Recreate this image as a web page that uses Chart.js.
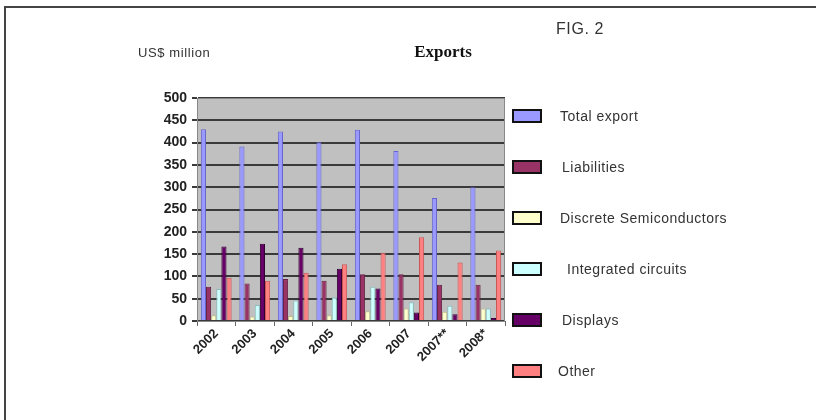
<!DOCTYPE html>
<html lang="en">
<head>
    <meta charset="UTF-8">
    <title>Exports</title>
    <script src="https://cdn.jsdelivr.net/npm/chart.js"></script>
    <style>
        html, body { margin: 0; padding: 0; background: #fff; }
        .wrap { position: relative; width: 816px; height: 420px; }
        .frame { position: absolute; left: 4px; top: 6px; right: 0; bottom: 0;
                 border-left: 2px solid #444; border-top: 2px solid #444; }
    </style>
</head>
<body>
<div class="wrap">
    <div class="frame"></div>
    <canvas id="exportsChart" width="816" height="420"></canvas>
</div>
<script>
    // data (US$ million)
    const years = ['2002', '2003', '2004', '2005', '2006', '2007', '2007**', '2008*'];
    const totalExport = [430, 391, 425, 401, 429, 381, 276, 300];
    const liabilities = [77, 84, 94, 90, 105, 105, 81, 81];
    const discreteSemi = [13, 10, 11, 13, 22, 28, 21, 28];
    const integratedCircuits = [72, 36, 46, 53, 77, 42, 34, 28];
    const displays = [167, 173, 164, 117, 73, 19, 15, 7];
    const other = [97, 90, 108, 127, 153, 188, 131, 158];
    const yTicks = [0, 50, 100, 150, 200, 250, 300, 350, 400, 450, 500];

    const seriesNames = ['Total export', 'Liabilities', 'Discrete Semiconductors', 'Integrated circuits', 'Displays', 'Other'];
    const seriesData = [totalExport, liabilities, discreteSemi, integratedCircuits, displays, other];
    const fills = ['#9999ff', '#993366', '#ffffcc', '#ccffff', '#660066', '#ff8080'];
    const edges = ['#6666cc', '#662244', '#bbbb88', '#88bbbb', '#330033', '#cc5555'];

    const datasets = seriesNames.map((name, i) => ({
        label: name,
        data: seriesData[i],
        backgroundColor: fills[i],
        borderColor: edges[i],
        borderWidth: 1,
        categoryPercentage: 0.8,
        barPercentage: 1.0
    }));

    const decor = {
        id: 'decor',
        beforeDraw(chart) {
            const { ctx, chartArea: a } = chart;
            ctx.save();
            ctx.fillStyle = '#c0c0c0';
            ctx.fillRect(a.left, a.top, a.right - a.left, a.bottom - a.top);
            ctx.restore();
        },
        afterDraw(chart) {
            const { ctx, chartArea: a } = chart;
            ctx.save();
            // plot frame
            ctx.strokeStyle = '#888';
            ctx.lineWidth = 1;
            ctx.strokeRect(a.left + 0.5, a.top + 0.5, a.right - a.left - 1, a.bottom - a.top);

            // titles
            ctx.fillStyle = '#333';
            ctx.textBaseline = 'middle';
            ctx.textAlign = 'left';
            ctx.letterSpacing = '0.6px';
            ctx.font = '13px "Liberation Sans", Arial, sans-serif';
            ctx.fillText('US$ million', 138, 53);
            ctx.font = '16px "Liberation Sans", Arial, sans-serif';
            ctx.fillText('FIG. 2', 556, 30);
            ctx.letterSpacing = '0px';
            ctx.fillStyle = '#111';
            ctx.font = 'bold 17px "Liberation Serif", "Times New Roman", serif';
            ctx.textAlign = 'center';
            ctx.fillText('Exports', 443, 53);

            // legend
            ctx.textAlign = 'left';
            ctx.letterSpacing = '0.5px';
            ctx.font = '14px "Liberation Sans", Arial, sans-serif';
            const textX = [560, 562, 560, 567, 562, 558];
            seriesNames.forEach((name, i) => {
                const cy = 116 + i * 51;
                ctx.fillStyle = fills[i];
                ctx.fillRect(513, cy - 6, 28, 12);
                ctx.strokeStyle = '#111';
                ctx.lineWidth = 2;
                ctx.strokeRect(513, cy - 6, 28, 12);
                ctx.fillStyle = '#333';
                ctx.fillText(name, textX[i], cy + 1);
            });
            ctx.restore();
        }
    };

    new Chart(document.getElementById('exportsChart'), {
        type: 'bar',
        data: { labels: years, datasets: datasets },
        plugins: [decor],
        options: {
            responsive: false,
            animation: false,
            layout: { padding: { left: 0, right: 311, top: 98, bottom: 0 } },
            plugins: {
                legend: { display: false },
                tooltip: { enabled: false }
            },
            scales: {
                x: {
                    offset: true,
                    grid: { offset: true, drawOnChartArea: false, drawTicks: true, tickLength: 5, color: '#666' },
                    border: { color: '#666', width: 1 },
                    ticks: {
                        maxRotation: 45,
                        minRotation: 45,
                        color: '#222',
                        padding: 0,
                        font: { family: '"Liberation Sans", Arial, sans-serif', size: 13, weight: 'bold' }
                    },
                    afterFit(scale) { scale.height = 99; }
                },
                y: {
                    min: 0,
                    max: 500,
                    afterBuildTicks(scale) { scale.ticks = yTicks.map(v => ({ value: v })); },
                    grid: { color: '#3a3a3a', lineWidth: 2, tickLength: 5 },
                    border: { color: '#666', width: 1 },
                    ticks: {
                        color: '#222',
                        padding: 5,
                        font: { family: '"Liberation Sans", Arial, sans-serif', size: 14, weight: 'bold' }
                    },
                    afterFit(scale) { scale.width = 197; }
                }
            }
        }
    });
</script>
</body>
</html>
